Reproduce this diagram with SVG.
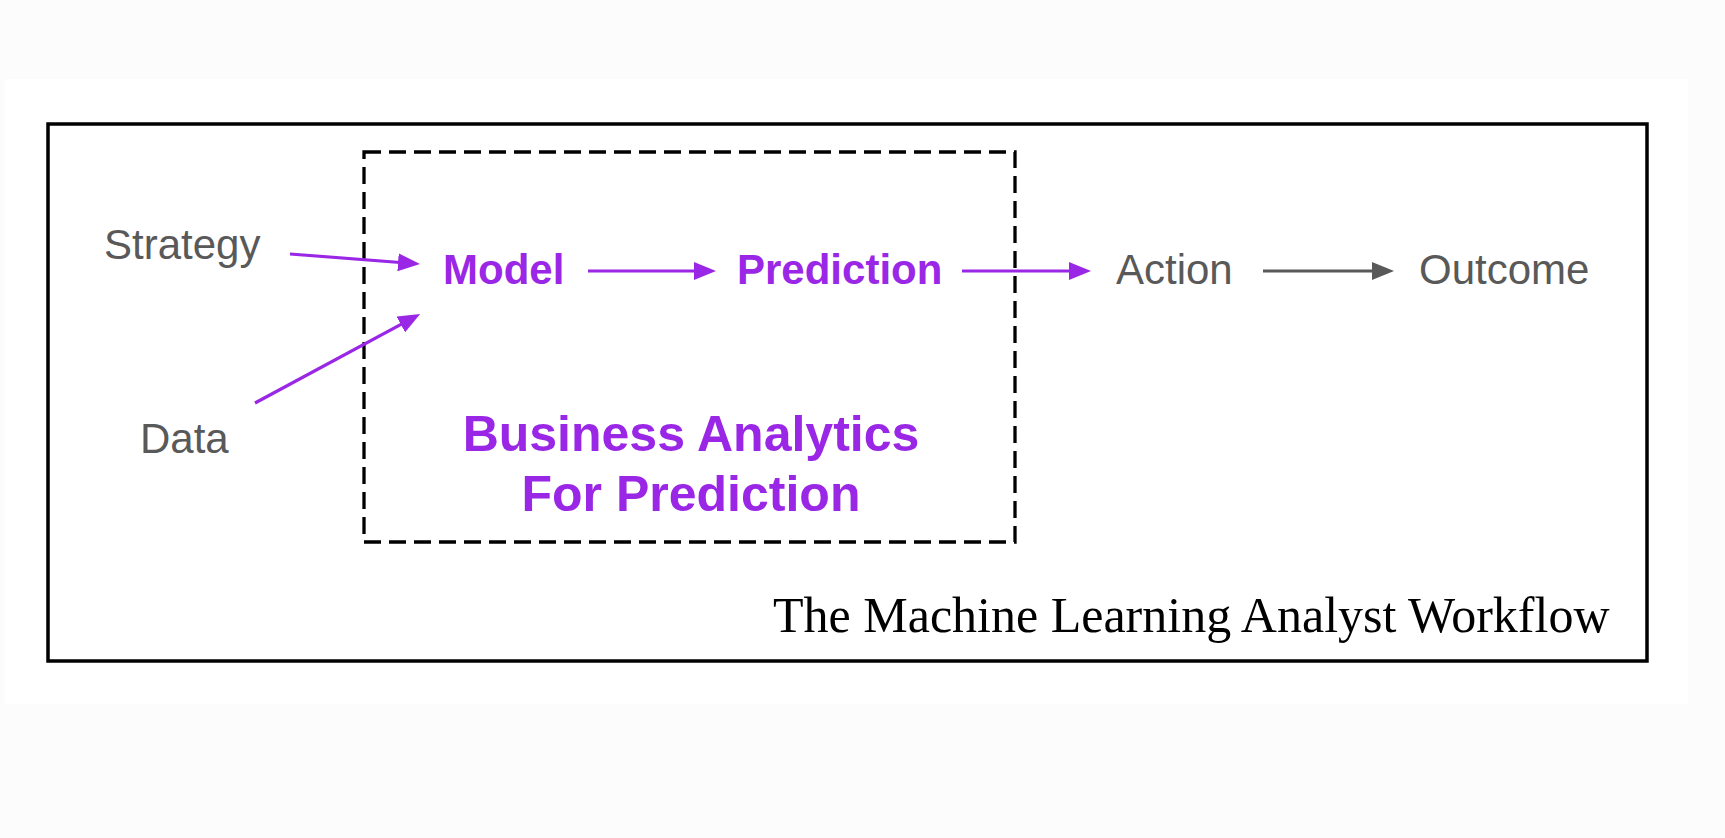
<svg xmlns="http://www.w3.org/2000/svg" width="1725" height="838" viewBox="0 0 1725 838">
  <style>
    .gray { font-family: "Liberation Sans", Arial, sans-serif; font-size: 42px; fill: #595959; }
    .purple { font-family: "Liberation Sans", Arial, sans-serif; font-size: 42px; font-weight: bold; fill: #9a26e6; }
    .big { font-family: "Liberation Sans", Arial, sans-serif; font-size: 50px; font-weight: bold; fill: #9a26e6; text-anchor: middle; }
    .title { font-family: "Liberation Serif", "Times New Roman", serif; font-size: 50px; fill: #000; }
    .pline { stroke: #9a26e6; stroke-width: 3.2; fill: none; marker-end: url(#ap); }
    .gline { stroke: #595959; stroke-width: 3.2; fill: none; marker-end: url(#ag); }
  </style>
  <defs>
    <marker id="ap" viewBox="0 0 22 18" refX="15" refY="9" markerWidth="22" markerHeight="18" markerUnits="userSpaceOnUse" orient="auto">
      <path d="M0,0 L22,9 L0,18 Z" fill="#9a26e6"/>
    </marker>
    <marker id="ag" viewBox="0 0 22 18" refX="15" refY="9" markerWidth="22" markerHeight="18" markerUnits="userSpaceOnUse" orient="auto">
      <path d="M0,0 L22,9 L0,18 Z" fill="#595959"/>
    </marker>
  </defs>
  <rect x="0" y="0" width="1725" height="838" fill="#fcfcfc"/>
  <rect x="5" y="79" width="1683" height="625" fill="#ffffff"/>

  <g id="frame">
    <rect x="48" y="124" width="1599" height="537" fill="none" stroke="#000" stroke-width="3.5"/>
  </g>
  <g id="analytics-box">
    <rect x="364" y="152" width="651" height="390" fill="none" stroke="#000" stroke-width="3.3" stroke-dasharray="17 8"/>
    <text class="big" x="691" y="451">Business Analytics</text>
    <text class="big" x="691" y="511">For Prediction</text>
  </g>

  <g id="strategy"><text class="gray" x="104" y="259">Strategy</text></g>
  <g id="data"><text class="gray" x="140" y="453">Data</text></g>
  <g id="model"><text class="purple" x="443" y="284">Model</text></g>
  <g id="prediction"><text class="purple" x="737" y="284">Prediction</text></g>
  <g id="action"><text class="gray" x="1116" y="284">Action</text></g>
  <g id="outcome"><text class="gray" x="1419" y="284">Outcome</text></g>
  <g id="title"><text class="title" x="773" y="632">The Machine Learning Analyst Workflow</text></g>

  <g id="connectors">
    <line class="pline" x1="290" y1="254" x2="413" y2="263.5"/>
    <line class="pline" x1="255" y1="403" x2="414" y2="317.3"/>
    <line class="pline" x1="588" y1="271" x2="709" y2="271"/>
    <line class="pline" x1="962" y1="271" x2="1084" y2="271"/>
    <line class="gline" x1="1263" y1="271" x2="1387" y2="271"/>
  </g>
</svg>
